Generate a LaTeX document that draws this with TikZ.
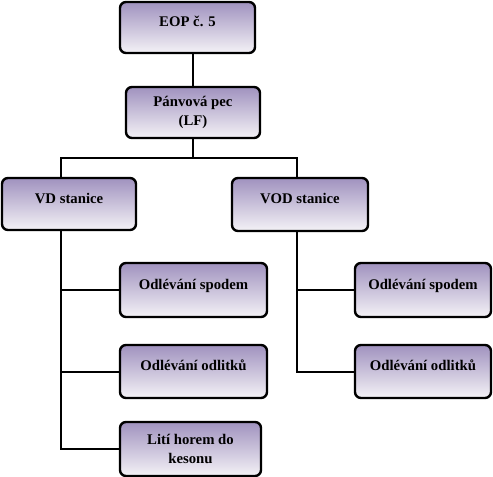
\documentclass[tikz,border=0pt]{standalone}
\usepackage{fontspec}
\setmainfont{Liberation Serif}
\definecolor{boxtop}{HTML}{A092BF}
\definecolor{boxbot}{HTML}{F4F2F6}
\begin{document}
\begin{tikzpicture}[x=1bp, y=-1bp,
  box/.style={draw, line width=2.4bp, rounded corners=6bp, top color=boxtop, bottom color=boxbot,
    align=center, font=\fontsize{14.8}{19}\selectfont\bfseries, inner sep=0pt},
  oneline/.style={text height=10bp, text depth=12bp},
  link/.style={line width=2bp}]
\useasboundingbox (0,0) rectangle (493,477);

\node[box, minimum width=135bp, minimum height=51bp, oneline] (eop) at (187.5,27.5) {EOP č. 5};
\node[box, minimum width=134bp, minimum height=51bp] (lf) at (193,112.5) {Pánvová pec\\(LF)};

\node[box, minimum width=134bp, minimum height=52bp, oneline] (vd) at (69,204) {VD stanice};
\node[box, minimum width=136bp, minimum height=53bp, oneline] (vod) at (300,204.5) {VOD stanice};

\node[box, minimum width=147bp, minimum height=54bp, oneline] (vdspodem) at (193.5,290) {Odlévání spodem};
\node[box, minimum width=147bp, minimum height=53bp, oneline] (vdodlitky) at (193.5,371.5) {Odlévání odlitků};
\node[box, minimum width=141bp, minimum height=54bp] (vdkeson) at (190.5,449) {Lití horem do\\kesonu};

\node[box, minimum width=136bp, minimum height=54bp, oneline] (vodspodem) at (423,290) {Odlévání spodem};
\node[box, minimum width=136bp, minimum height=53bp, oneline] (vododlitky) at (423,371.5) {Odlévání odlitků};

\coordinate (split) at (193,158);
\coordinate (vdtop) at (61,158);
\coordinate (vodtop) at (297,158);

\path[draw,link] (eop.south -| lf) -- (lf.north);
\path[draw,link] (lf.south) -- (split);
\path[draw,link] (vd.north -| vdtop) -- (vdtop) -- (vodtop) -- (vod.north -| vodtop);

\path[draw,link] (vd.south -| vdtop) |- (vdkeson.west);
\path[draw,link] (vd.south -| vdtop) |- (vdspodem.west);
\path[draw,link] (vd.south -| vdtop) |- (vdodlitky.west);

\path[draw,link] (vod.south -| vodtop) |- (vododlitky.west);
\path[draw,link] (vod.south -| vodtop) |- (vodspodem.west);
\end{tikzpicture}
\end{document}
